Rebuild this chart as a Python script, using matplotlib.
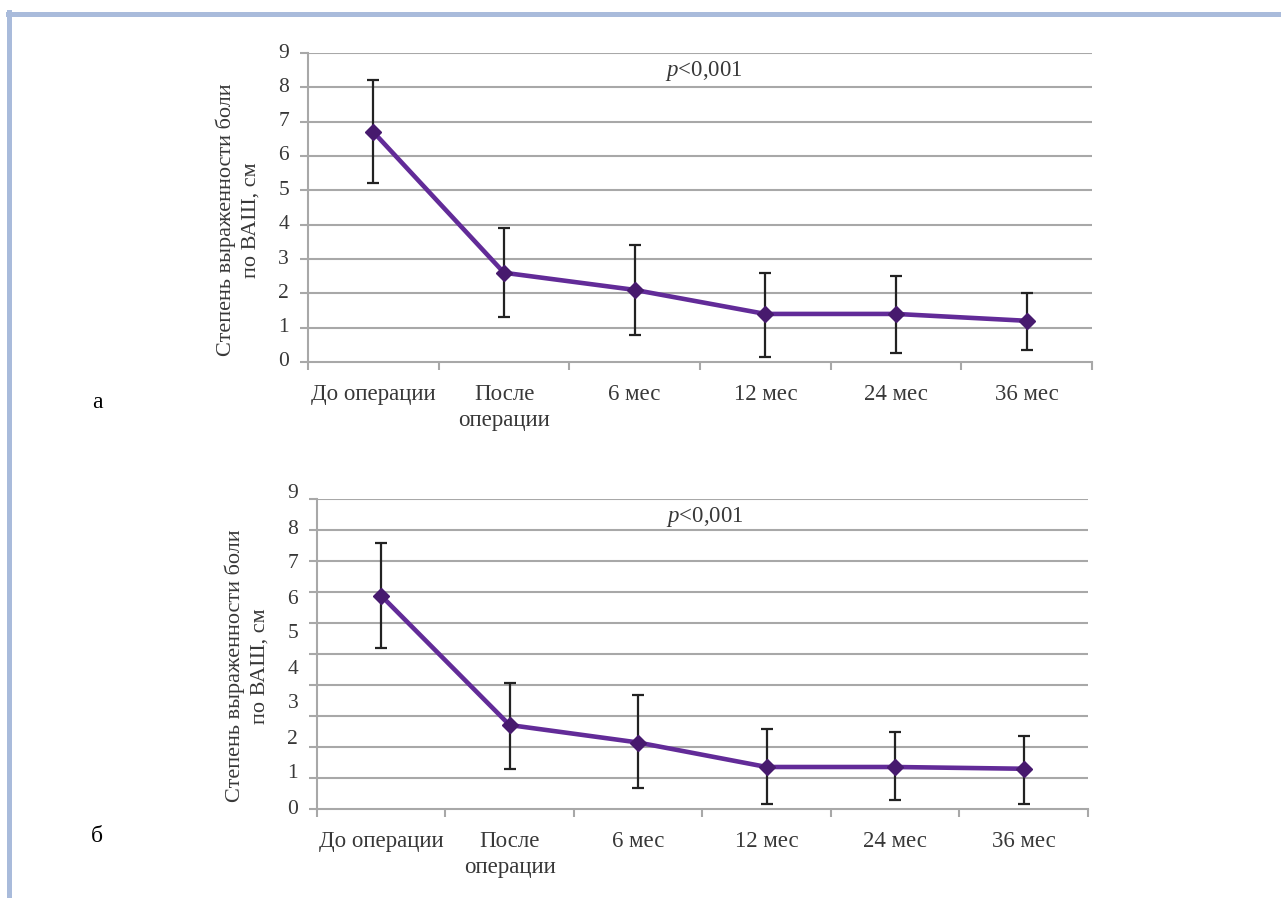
import matplotlib
matplotlib.use("Agg")
import matplotlib.pyplot as plt
from matplotlib.lines import Line2D
import numpy as np

plt.rcParams['font.family'] = ['Liberation Serif', 'DejaVu Serif']
plt.rcParams['mathtext.fontset'] = 'custom'
plt.rcParams['mathtext.rm'] = 'Liberation Serif'
plt.rcParams['mathtext.it'] = 'Liberation Serif:italic'

categories = ["До операции", "После\nоперации", "6 мес", "12 мес", "24 мес", "36 мес"]
y_ticks = [0, 1, 2, 3, 4, 5, 6, 7, 8, 9]

# panel a
mean_a = [6.7, 2.6, 2.1, 1.4, 1.4, 1.2]
upper_a = [8.2, 3.9, 3.4, 2.6, 2.5, 2.0]
lower_a = [5.2, 1.3, 0.8, 0.15, 0.25, 0.35]

# panel б (values read against the printed tick labels)
mean_b = [6.1, 2.4, 1.9, 1.2, 1.2, 1.15]
upper_b = [7.6, 3.6, 3.25, 2.3, 2.2, 2.1]
lower_b = [4.6, 1.15, 0.6, 0.15, 0.25, 0.15]

p_text = "<0,001"
ylabel = "Степень выраженности боли\nпо ВАШ, см"
panel_letters = ["а", "б"]

W, H = 1281, 898
fig = plt.figure(figsize=(W / 100, H / 100), dpi=100)

LINE_C = "#622b98"
MARK_C = "#471a6e"
GRID_C = "#a8a8a8"
TEXT_C = "#383838"
FS_TICK = 15.5
FS_X = 16.5
FS_Y = 16


def px_axes(l, t, r, b):
    return fig.add_axes([l / W, 1 - b / H, (r - l) / W, (b - t) / H])


def draw_panel(ax, mean, upper, lower, ytop, grid_pos, label_xy, ptxt_xy, letter_xy, letter):
    x = np.arange(len(categories))
    ax.set_xlim(-0.5, len(categories) - 0.5)
    ax.set_ylim(0, ytop)
    for s in ["top", "right"]:
        ax.spines[s].set_visible(False)
    for s in ["left", "bottom"]:
        ax.spines[s].set_color(GRID_C)
        ax.spines[s].set_linewidth(1.5)
    ax.set_yticks(grid_pos)
    ax.set_yticklabels([])
    ax.tick_params(axis="y", length=6, width=1.5, color=GRID_C, direction="out")
    for g in grid_pos[1:]:
        ax.axhline(g, color=GRID_C, lw=1.5, zorder=1)
    trans = matplotlib.transforms.blended_transform_factory(ax.transAxes, ax.transData)
    for v in y_ticks:
        ax.text(-0.031, v, str(v), transform=trans, ha="center", va="center",
                fontsize=FS_TICK, color=TEXT_C, clip_on=False)
    ax.set_xticks(np.arange(-0.5, len(categories) + 0.5, 1.0))
    ax.set_xticklabels([])
    ax.tick_params(axis="x", length=6, width=1.5, color=GRID_C, direction="out")
    transx = matplotlib.transforms.blended_transform_factory(ax.transData, ax.transAxes)
    for i, c in enumerate(categories):
        ax.text(i, -0.07, c, transform=transx, ha="center", va="top", fontsize=FS_X,
                color=TEXT_C, linespacing=1.35, clip_on=False)
    m = np.array(mean)
    yerr = np.vstack([m - np.array(lower), np.array(upper) - m])
    ax.errorbar(x, m, yerr=yerr, fmt="none", ecolor="#222222", elinewidth=1.6,
                capsize=4.5, capthick=1.6, zorder=3)
    ax.plot(x, m, color=LINE_C, lw=3.3, zorder=4)
    ax.plot(x, m, ls="none", marker="D", ms=8.5, color=MARK_C, mec=MARK_C, zorder=5)
    fig.text(label_xy[0] / W, 1 - label_xy[1] / H, ylabel, rotation=90, ha="center", va="center",
             fontsize=FS_Y, color=TEXT_C, linespacing=1.35, multialignment="center")
    fig.text(ptxt_xy[0] / W, 1 - ptxt_xy[1] / H, "$\\mathit{p}$" + p_text, ha="center", va="center",
             fontsize=FS_X, color=TEXT_C)
    fig.text(letter_xy[0] / W, 1 - letter_xy[1] / H, letter, ha="center", va="center",
             fontsize=17, color="black")


# panel a
ax1 = px_axes(308, 53, 1092, 362)
draw_panel(ax1, mean_a, upper_a, lower_a, 9.0, np.arange(0, 10),
           (238, 220), (704, 71), (97, 402), panel_letters[0])

# panel б: 0 at 809px, 35px per label unit, 10 gridline intervals
top_b = (809 - 499) / 35.0
ax2 = px_axes(316.7, 499, 1088, 809)
draw_panel(ax2, mean_b, upper_b, lower_b, top_b, np.linspace(0, top_b, 11),
           (247, 666), (705, 517), (97, 836), panel_letters[1])

BORDER = "#a9bbdb"
fig.add_artist(Line2D([8 / W, 1], [1 - 14 / H, 1 - 14 / H], color=BORDER, lw=3.6,
                      transform=fig.transFigure))
fig.add_artist(Line2D([9 / W, 9 / W], [1 - 12 / H, 0], color=BORDER, lw=3.6,
                      transform=fig.transFigure))

fig.savefig("out.png", dpi=100)
